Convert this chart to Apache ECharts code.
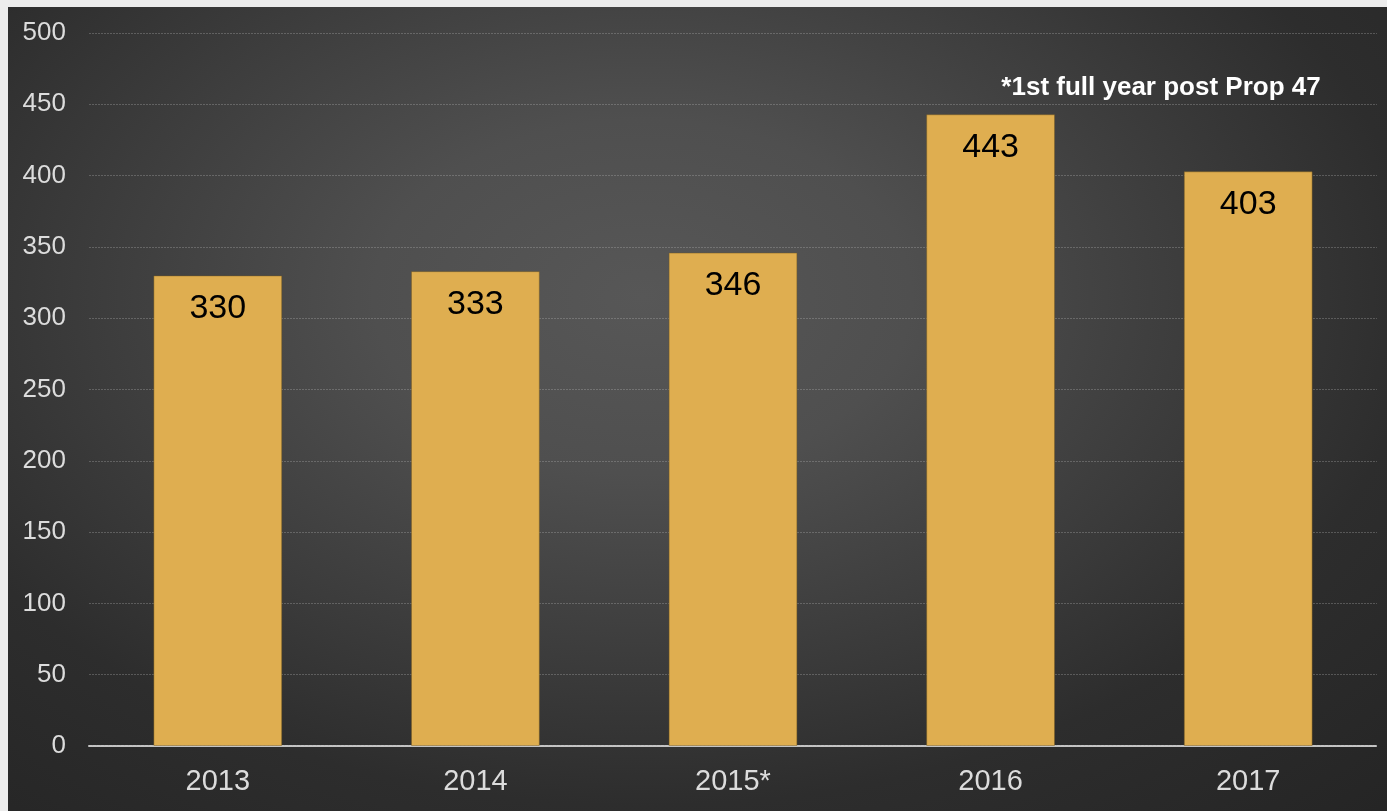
<!DOCTYPE html>
<html>
<head>
<meta charset="utf-8">
<script src="https://cdn.jsdelivr.net/npm/echarts@6/dist/echarts.min.js"></script>
<style>
  html, body { margin: 0; padding: 0; width: 1387px; height: 811px; background: #ececec; overflow: hidden; }
  #chart {
    position: absolute; left: 8px; top: 7px; width: 1379px; height: 804px;
    background: radial-gradient(ellipse 78% 88% at 46% 36%, #575757 0%, #4f4f4f 25%, #3d3d3d 50%, #2d2d2d 72%, #252525 100%);
  }
</style>
</head>
<body>
<div id="chart"></div>
<script>
const categories = ['2013', '2014', '2015*', '2016', '2017'];
const values = [330, 333, 346, 443, 403];
const yTicks = { min: 0, max: 500, interval: 50 };
const note = '*1st full year post Prop 47';

const chart = echarts.init(document.getElementById('chart'), null, { renderer: 'canvas' });
chart.setOption({
  backgroundColor: 'transparent',
  animation: false,
  grid: { left: 81, right: 10, top: 26, bottom: 65, containLabel: false },
  xAxis: {
    type: 'category',
    data: categories,
    axisLine: { show: true, lineStyle: { color: '#c4c4c4', width: 2, type: [3, 1] } },
    axisTick: { show: false },
    axisLabel: { color: '#dcdcdc', fontSize: 29, fontFamily: 'Liberation Sans, Arial, sans-serif', margin: 21 }
  },
  yAxis: {
    type: 'value',
    min: yTicks.min, max: yTicks.max, interval: yTicks.interval,
    axisLine: { show: false },
    axisTick: { show: false },
    axisLabel: { color: '#dcdcdc', fontSize: 26, fontFamily: 'Liberation Sans, Arial, sans-serif', margin: 23 },
    splitLine: { show: true, lineStyle: { color: 'rgba(190,190,190,0.3)', width: 1, type: [2, 1] } }
  },
  series: [{
    type: 'bar',
    data: values,
    barWidth: '50%',
    itemStyle: { color: '#dfae50', borderColor: 'rgba(120,90,30,0.45)', borderWidth: 1 },
    label: {
      show: true, position: 'insideTop', distance: 16,
      color: '#000', fontSize: 34, fontFamily: 'Liberation Sans, Arial, sans-serif'
    }
  }],
  graphic: [{
    type: 'text',
    x: 1153, y: 81,
    style: {
      text: note,
      fill: '#ffffff',
      font: 'bold 26px "Liberation Sans", Arial, sans-serif',
      textAlign: 'center',
      textVerticalAlign: 'middle'
    }
  }]
});
</script>
</body>
</html>
